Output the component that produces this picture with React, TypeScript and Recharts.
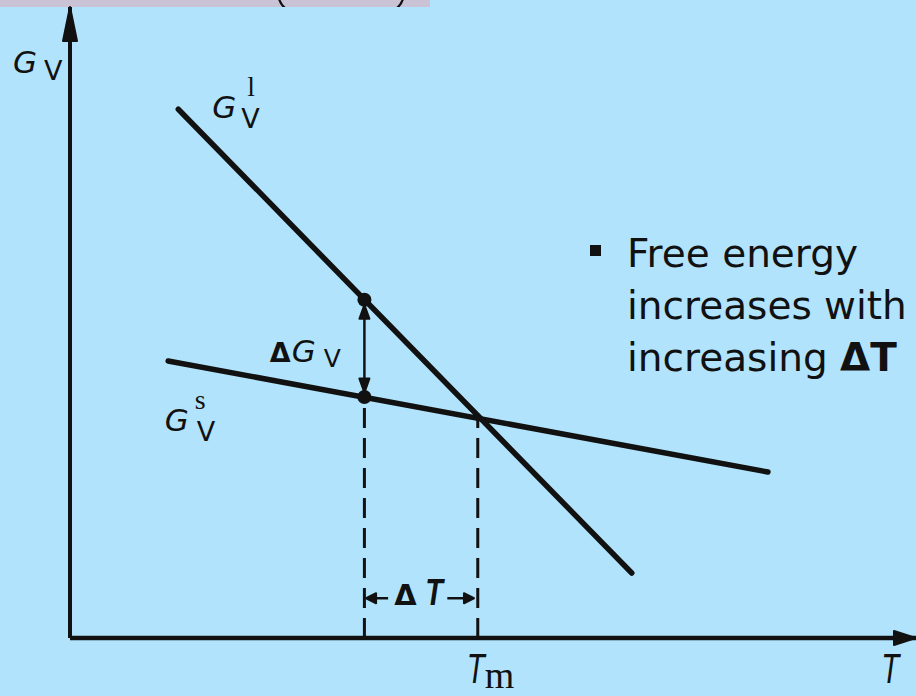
import React from 'react';
import {
  ComposedChart,
  Line,
  Scatter,
  XAxis,
  YAxis,
  ReferenceLine,
  ReferenceDot,
} from 'recharts';

// Volume free energy of the liquid and solid phases against temperature
// (schematic, arbitrary units on both axes).
const liquidGv = [
  { T: 12.8, G: 83.8 },
  { T: 66.4, G: 10.3 },
];
const solidGv = [
  { T: 11.6, G: 43.9 },
  { T: 82.5, G: 26.3 },
];
const undercoolT = 34.8;
const meltT = 48.2;
const meltG = 35.0;
const liquidAtUndercool = 53.6;
const solidAtUndercool = 38.2;
const phasePoints = [
  { T: undercoolT, G: liquidAtUndercool },
  { T: undercoolT, G: solidAtUndercool },
];
const xTickValues = [meltT, 97.2];
const xTickSubs = ['m', ''];
const yTickValues = [90.8];
const bulletLines = ['Free energy', 'increases with', 'increasing '];

const axisArrowUp = [{ T: 0, G: 100, dir: 'up' }];
const axisArrowRight = [{ T: 100, G: 0, dir: 'right' }];
const deltaGArrows = [
  { T: undercoolT, G: 52.8, dir: 'up' },
  { T: undercoolT, G: 38.9, dir: 'down' },
];
const deltaTLevel = 6.3;
const deltaTArrows = [
  { T: 35.0, G: deltaTLevel, dir: 'left' },
  { T: 47.75, G: deltaTLevel, dir: 'right' },
];

const INK = '#111';
const BG = '#b1e4fc';

const arrowPoints = (cx: number, cy: number, dir: string, len: number, half: number) => {
  switch (dir) {
    case 'up':
      return `M${cx},${cy} L${cx + half},${cy + len} L${cx - half},${cy + len} Z`;
    case 'down':
      return `M${cx},${cy} L${cx + half},${cy - len} L${cx - half},${cy - len} Z`;
    case 'left':
      return `M${cx},${cy} L${cx + len},${cy - half} L${cx + len},${cy + half} Z`;
    default:
      return `M${cx},${cy} L${cx - len},${cy - half} L${cx - len},${cy + half} Z`;
  }
};

const makeArrow = (len: number, half: number) => (props: any) => {
  const { cx, cy, payload } = props;
  if (cx == null || cy == null) return <g />;
  return (
    <path
      d={arrowPoints(cx, cy, payload.dir, len, half)}
      fill={INK}
      stroke={INK}
      strokeWidth={2}
      strokeLinejoin="round"
    />
  );
};

const StateDot = (props: any) => {
  const { cx, cy } = props;
  if (cx == null || cy == null) return <g />;
  return <circle cx={cx} cy={cy} r={7} fill={INK} />;
};

// G with a V subscript and a serif phase superscript stacked after it
const PhaseSymbol = ({ cx, cy, sup, vDx, supDx }: any) => (
  <g fill={INK}>
    <text x={cx} y={cy} fontFamily="DejaVu Sans" fontStyle="italic" fontSize={31}>
      G
    </text>
    <text x={cx + vDx} y={cy + 10} fontFamily="DejaVu Sans" fontSize={27}>
      V
    </text>
    <text x={cx + supDx} y={cy - 22} fontFamily="Liberation Serif" fontSize={28}>
      {sup}
    </text>
  </g>
);

const DeltaGLabel = ({ cx, cy }: any) => (
  <g fill={INK}>
    <text x={cx} y={cy} fontFamily="DejaVu Sans" fontWeight="bold" fontSize={27}>
      Δ
    </text>
    <text x={cx + 22} y={cy} fontFamily="DejaVu Sans" fontStyle="italic" fontSize={31}>
      G
    </text>
    <text x={cx + 54} y={cy + 5} fontFamily="DejaVu Sans" fontSize={25}>
      V
    </text>
  </g>
);

const DeltaTLabel = ({ cx, cy }: any) => (
  <g fill={INK}>
    <text x={cx - 26} y={cy} fontFamily="DejaVu Sans" fontWeight="bold" fontSize={29}>
      Δ
    </text>
    <text
      transform={`translate(${cx + 5},${cy}) scale(0.78,1)`}
      fontFamily="Liberation Sans"
      fontStyle="italic"
      fontWeight="bold"
      fontSize={37}
    >
      T
    </text>
  </g>
);

const TempTick = (props: any) => {
  const { x, y, payload } = props;
  const i = xTickValues.indexOf(payload.value);
  const sub = xTickSubs[i] || '';
  return (
    <g fill={INK}>
      <text
        transform={`translate(${x - 11},${y + 37}) scale(0.7,1)`}
        fontFamily="Liberation Sans"
        fontStyle="italic"
        fontSize={42}
      >
        T
      </text>
      {sub && (
        <text x={x + 7} y={y + 42} fontFamily="Liberation Serif" fontSize={38}>
          {sub}
        </text>
      )}
    </g>
  );
};

const EnergyTick = (props: any) => {
  const { x, y } = props;
  return (
    <g fill={INK}>
      <text x={x - 49} y={y + 8} fontFamily="DejaVu Sans" fontStyle="italic" fontSize={31}>
        G
      </text>
      <text x={x - 18} y={y + 15} fontFamily="DejaVu Sans" fontSize={27}>
        V
      </text>
    </g>
  );
};

export default function App() {
  return (
    <div
      style={{
        position: 'absolute',
        left: 0,
        top: 0,
        width: 916,
        height: 696,
        background: BG,
        overflow: 'hidden',
      }}
    >
      <div
        style={{
          position: 'absolute',
          left: 0,
          top: 0,
          width: 430,
          height: 7,
          background: '#c9c3d5',
        }}
      >
        <svg width={430} height={7} style={{ display: 'block' }}>
          <path d="M278,-6 Q279,3 285,8" stroke={INK} strokeWidth={2.2} fill="none" />
          <path d="M404,-6 Q403,3 397,8" stroke={INK} strokeWidth={2.2} fill="none" />
        </svg>
      </div>

      <ComposedChart
        width={916}
        height={696}
        margin={{ top: 7, right: 0, left: 10, bottom: 28 }}
        style={{ position: 'absolute', left: 0, top: 0 }}
      >
        <XAxis
          type="number"
          dataKey="T"
          domain={[0, 100]}
          ticks={xTickValues}
          tick={<TempTick />}
          tickLine={false}
          axisLine={{ stroke: INK, strokeWidth: 4.5 }}
          height={30}
        />
        <YAxis
          type="number"
          dataKey="G"
          domain={[0, 100]}
          ticks={yTickValues}
          tick={<EnergyTick />}
          tickLine={false}
          axisLine={{ stroke: INK, strokeWidth: 4 }}
          width={60}
        />

        {/* undercooling and melting temperature guides */}
        <ReferenceLine
          segment={[
            { x: undercoolT, y: 0 },
            { x: undercoolT, y: solidAtUndercool },
          ]}
          stroke={INK}
          strokeWidth={3}
          strokeDasharray="20 10"
        />
        <ReferenceLine
          segment={[
            { x: meltT, y: 0 },
            { x: meltT, y: meltG },
          ]}
          stroke={INK}
          strokeWidth={3}
          strokeDasharray="20 10"
        />

        {/* ΔG double arrow shaft */}
        <ReferenceLine
          segment={[
            { x: undercoolT, y: 52.0 },
            { x: undercoolT, y: 39.6 },
          ]}
          stroke={INK}
          strokeWidth={2.5}
        />
        {/* ΔT arrow shafts */}
        <ReferenceLine
          segment={[
            { x: 35.3, y: deltaTLevel },
            { x: 37.6, y: deltaTLevel },
          ]}
          stroke={INK}
          strokeWidth={2.5}
        />
        <ReferenceLine
          segment={[
            { x: 44.6, y: deltaTLevel },
            { x: 47.4, y: deltaTLevel },
          ]}
          stroke={INK}
          strokeWidth={2.5}
        />

        <Line
          data={liquidGv}
          dataKey="G"
          type="linear"
          stroke={INK}
          strokeWidth={5.5}
          strokeLinecap="round"
          dot={false}
          activeDot={false}
          isAnimationActive={false}
        />
        <Line
          data={solidGv}
          dataKey="G"
          type="linear"
          stroke={INK}
          strokeWidth={5.5}
          strokeLinecap="round"
          dot={false}
          activeDot={false}
          isAnimationActive={false}
        />

        <Scatter data={phasePoints} shape={StateDot} isAnimationActive={false} />
        <Scatter data={axisArrowUp} shape={makeArrow(34, 7)} isAnimationActive={false} />
        <Scatter data={axisArrowRight} shape={makeArrow(22, 7)} isAnimationActive={false} />
        <Scatter data={deltaGArrows} shape={makeArrow(14, 5)} isAnimationActive={false} />
        <Scatter data={deltaTArrows} shape={makeArrow(10, 5)} isAnimationActive={false} />

        <ReferenceDot
          x={16.8}
          y={82.4}
          r={0}
          shape={(p: any) => <PhaseSymbol cx={p.cx} cy={p.cy} sup="l" vDx={29} supDx={35} />}
        />
        <ReferenceDot
          x={11.2}
          y={32.8}
          r={0}
          shape={(p: any) => <PhaseSymbol cx={p.cx} cy={p.cy} sup="s" vDx={32} supDx={30} />}
        />
        <ReferenceDot x={23.6} y={43.7} r={0} shape={(p: any) => <DeltaGLabel cx={p.cx} cy={p.cy} />} />
        <ReferenceDot x={41.4} y={5.2} r={0} shape={(p: any) => <DeltaTLabel cx={p.cx} cy={p.cy} />} />
      </ComposedChart>

      <div
        style={{
          position: 'absolute',
          left: 590,
          top: 245,
          width: 11,
          height: 11,
          background: INK,
        }}
      />
      <div
        style={{
          position: 'absolute',
          left: 627,
          top: 228,
          fontFamily: 'DejaVu Sans',
          fontSize: 39,
          lineHeight: '52px',
          color: INK,
          whiteSpace: 'nowrap',
        }}
      >
        <div>{bulletLines[0]}</div>
        <div>{bulletLines[1]}</div>
        <div>
          {bulletLines[2]}
          <b>ΔT</b>
        </div>
      </div>
    </div>
  );
}
